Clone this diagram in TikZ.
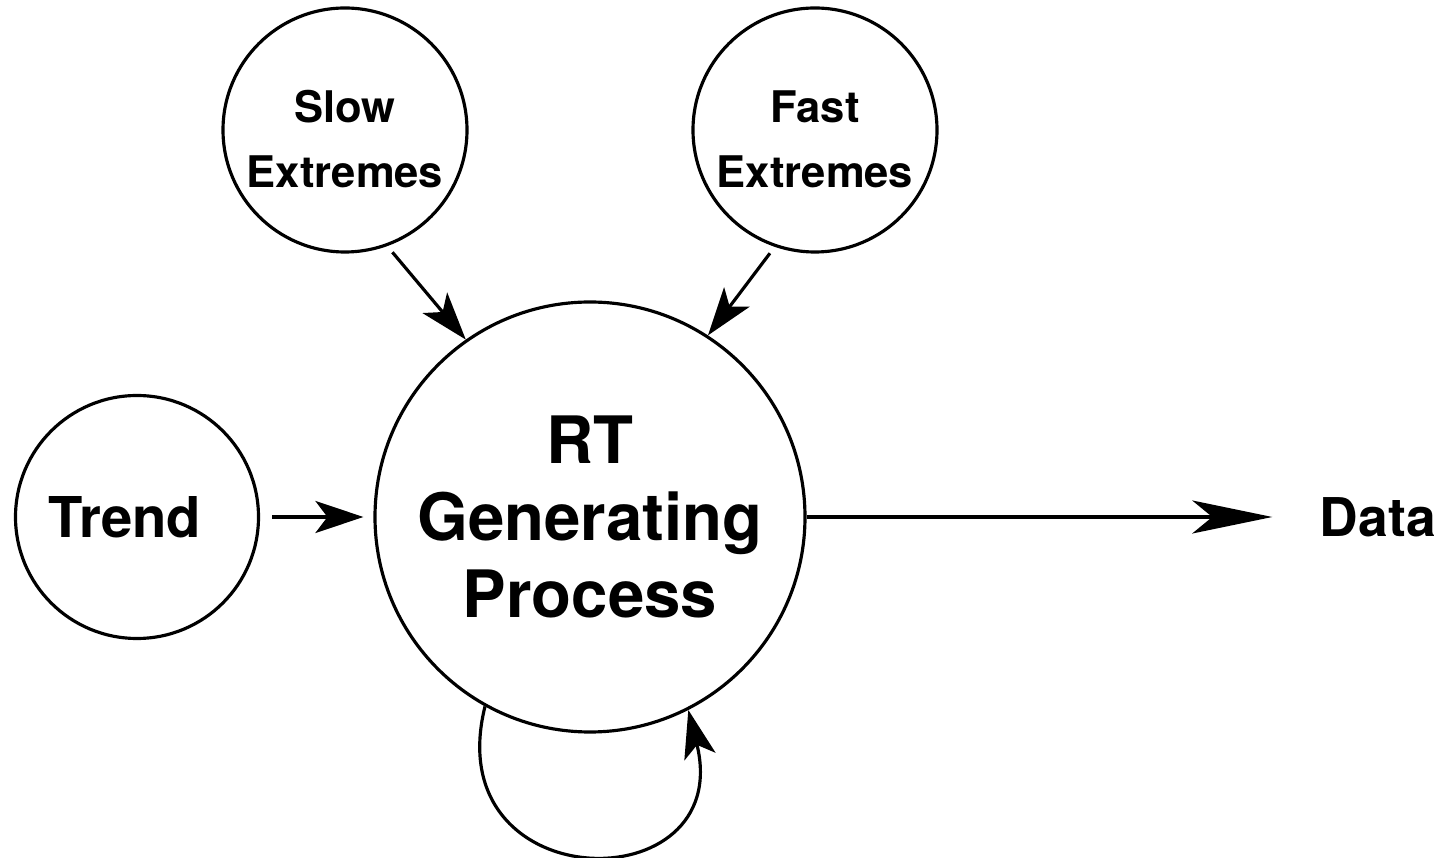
\documentclass[tikz,border=0pt]{standalone}
\usepackage{fontspec}
\setmainfont{TeX Gyre Heros}
\usetikzlibrary{arrows.meta}

\tikzset{
  factor/.style={draw, circle, line width=0.9pt, inner sep=0pt, align=center},
  small/.style={factor, minimum size=2.44cm, text height=32.9pt, font=\bfseries\fontsize{12.4}{18.5}\selectfont},
  big/.style={factor, minimum size=4.30cm, font=\bfseries\fontsize{18.6}{21.8}\selectfont},
  arr/.style={line width=0.9pt, -{Stealth[length=0.48cm, width=0.32cm, inset=0.12cm]}},
}

\begin{document}
\begin{tikzpicture}
  \useasboundingbox (0,0) rectangle (14.46,-8.58);

  \node[small] (slow) at (3.45,-1.30) {Slow\\Extremes};
  \node[small] (fast) at (8.15,-1.30) {Fast\\Extremes};
  \node[factor, minimum size=2.43cm, font=\bfseries\fontsize{16}{18}\selectfont] (trend) at (1.37,-5.17) {Trend\hspace{0.24cm}};
  \node[big] (rt) at (5.90,-5.17) {RT\\Generating\\Process\hspace{0.08cm}};
  \node[inner sep=0pt, font=\bfseries\fontsize{15.2}{18}\selectfont] (data) at (13.78,-5.17) {Data};

  \draw[arr, shorten <=0.08cm] (slow.-70) -- (rt.125);
  \draw[arr, shorten <=0.08cm] (fast.-109) -- (rt.57);
  \draw[arr, shorten <=0.12cm, shorten >=0.1cm] (trend) -- (rt);
  \draw[line width=0.9pt, -{Stealth[length=0.8cm, width=0.33cm, inset=0.2cm]}, shorten >=0.47cm] (rt) -- (data);
  \draw[arr] (rt.-119) .. controls +(-104:2cm) and +(-76:2cm) .. (rt.-63);
\end{tikzpicture}
\end{document}
